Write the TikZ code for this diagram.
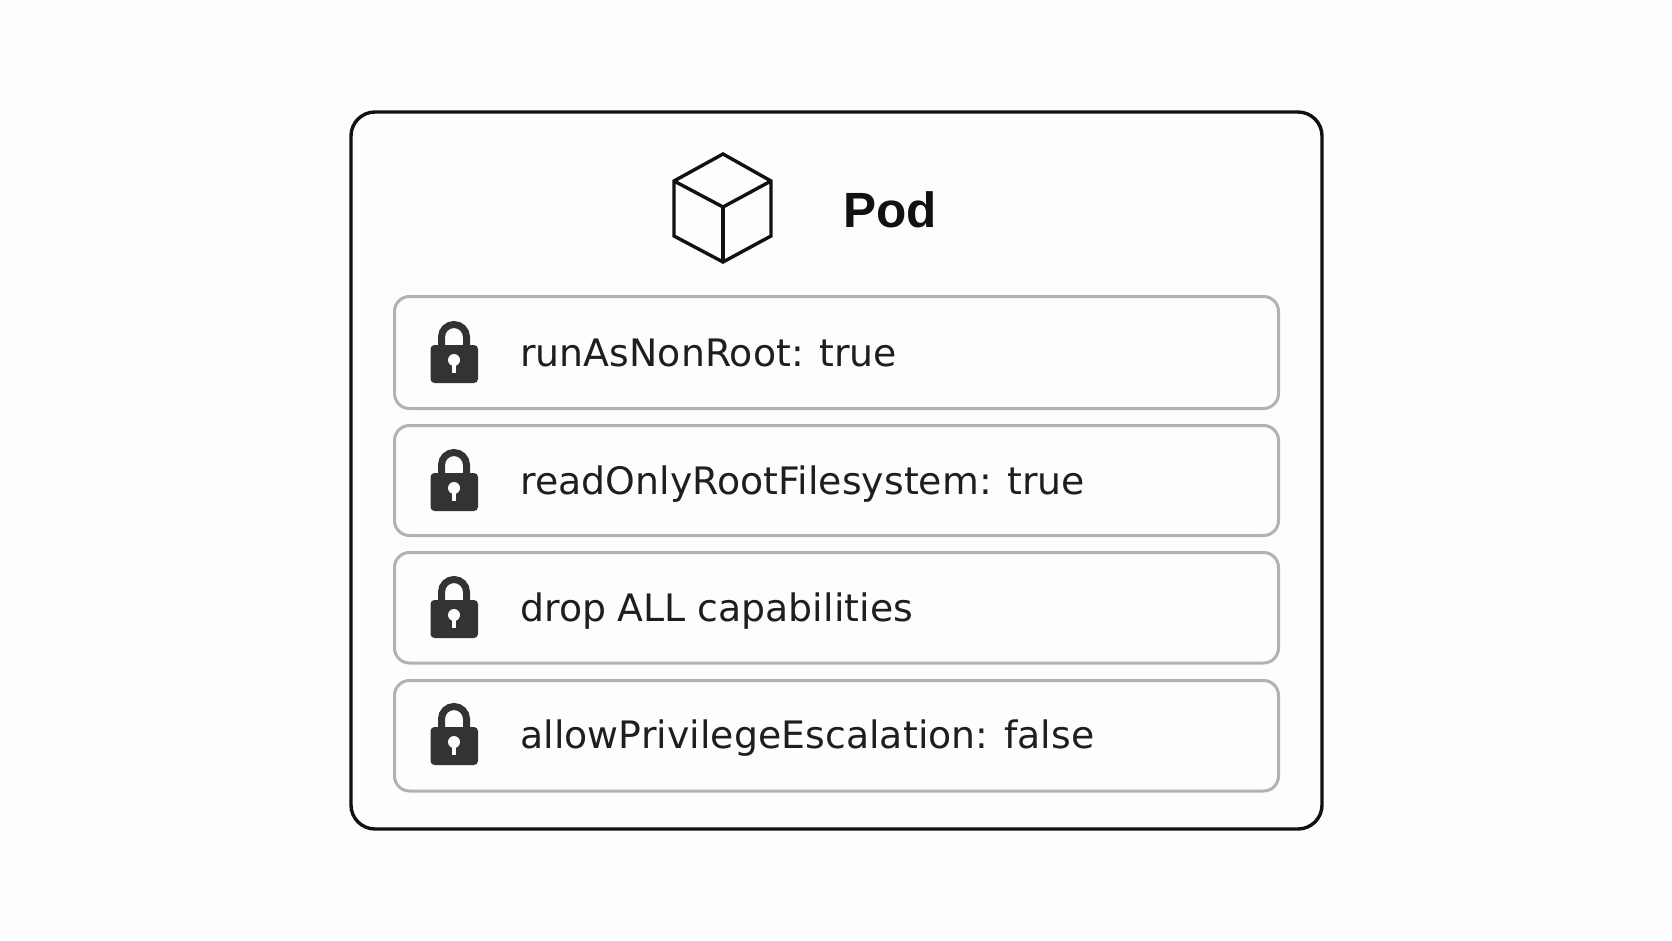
\documentclass[tikz,border=0pt]{standalone}
\usepackage{fontspec}
\setmainfont{Liberation Sans}
\newfontfamily\rowfont[LetterSpace=0.2,WordSpace=0.95]{DejaVu Sans}
\definecolor{paper}{HTML}{FDFDFD}
\definecolor{ink}{HTML}{111111}
\definecolor{rowink}{HTML}{1E1E1E}
\definecolor{rule}{HTML}{B2B2B2}
\definecolor{lockink}{HTML}{333333}
\tikzset{
  x=1pt,y=-1pt,
  podbox/.style={draw=ink,line width=3.4pt,rounded corners=24pt,fill=paper,minimum width=971pt,minimum height=717pt,inner sep=0pt,outer sep=0pt},
  rowbox/.style={draw=rule,line width=3pt,rounded corners=15pt,minimum width=884pt,inner sep=0pt,outer sep=0pt},
  rowtext/.style={anchor=base west,inner sep=0pt,text=rowink,font=\rowfont\fontsize{37.8}{42}\selectfont},
  podtitle/.style={anchor=base west,inner sep=0pt,text=ink,font=\fontsize{49.5}{56}\selectfont\bfseries},
  cubeline/.style={draw=ink,line width=3.4pt,line join=miter},
  lock/.pic={
    \fill[lockink,rounded corners=4pt] (-23.5,-8) rectangle (24,30);
    \draw[lockink,line width=7pt] (-12.5,-6) -- (-12.5,-16) arc[start angle=180,end angle=360,x radius=12.5,y radius=12.5] -- (12.5,-6);
    \fill[paper] (0,7) circle[radius=6];
    \fill[paper] (-2.2,7) rectangle (2.2,20);
  }
}
\begin{document}
\begin{tikzpicture}
\useasboundingbox (0,0) rectangle (1672,941);
\fill[paper] (0,0) rectangle (1672,941);
\node[podbox] (pod) at (836.5,470.5) {};
% cube
\coordinate (ct) at (723,154);
\coordinate (cl) at (674,181);
\coordinate (cr) at (771,181);
\coordinate (cc) at (723,207);
\coordinate (bl) at (674,236);
\coordinate (br) at (771,236);
\coordinate (cb) at (723,262);
\draw[cubeline] (ct) -- (cr) -- (br) -- (cb) -- (bl) -- (cl) -- cycle;
\draw[cubeline] (cl) -- (cc) -- (cr);
\draw[cubeline] (cc) -- (cb);
\node[podtitle] (title) at (843,228) {Pod};
% rows
\node[rowbox,minimum height=112pt] (r1) at (836.5,352.5) {};
\node[rowbox,minimum height=110pt] (r2) at (836.5,480.5) {};
\node[rowbox,minimum height=110.5pt] (r3) at (836.5,607.75) {};
\node[rowbox,minimum height=110.5pt] (r4) at (836.5,735.75) {};
\pic at (454,353) {lock};
\pic at (454,481) {lock};
\pic at (454,608) {lock};
\pic at (454,735) {lock};
\node[rowtext] (t1) at (520,366) {runAsNonRoot: true};
\node[rowtext] (t2) at (520,494) {readOnlyRootFilesystem: true};
\node[rowtext] (t3) at (520,621) {drop ALL capabilities};
\node[rowtext] (t4) at (520,748) {allowPrivilegeEscalation: false};
\end{tikzpicture}
\end{document}
